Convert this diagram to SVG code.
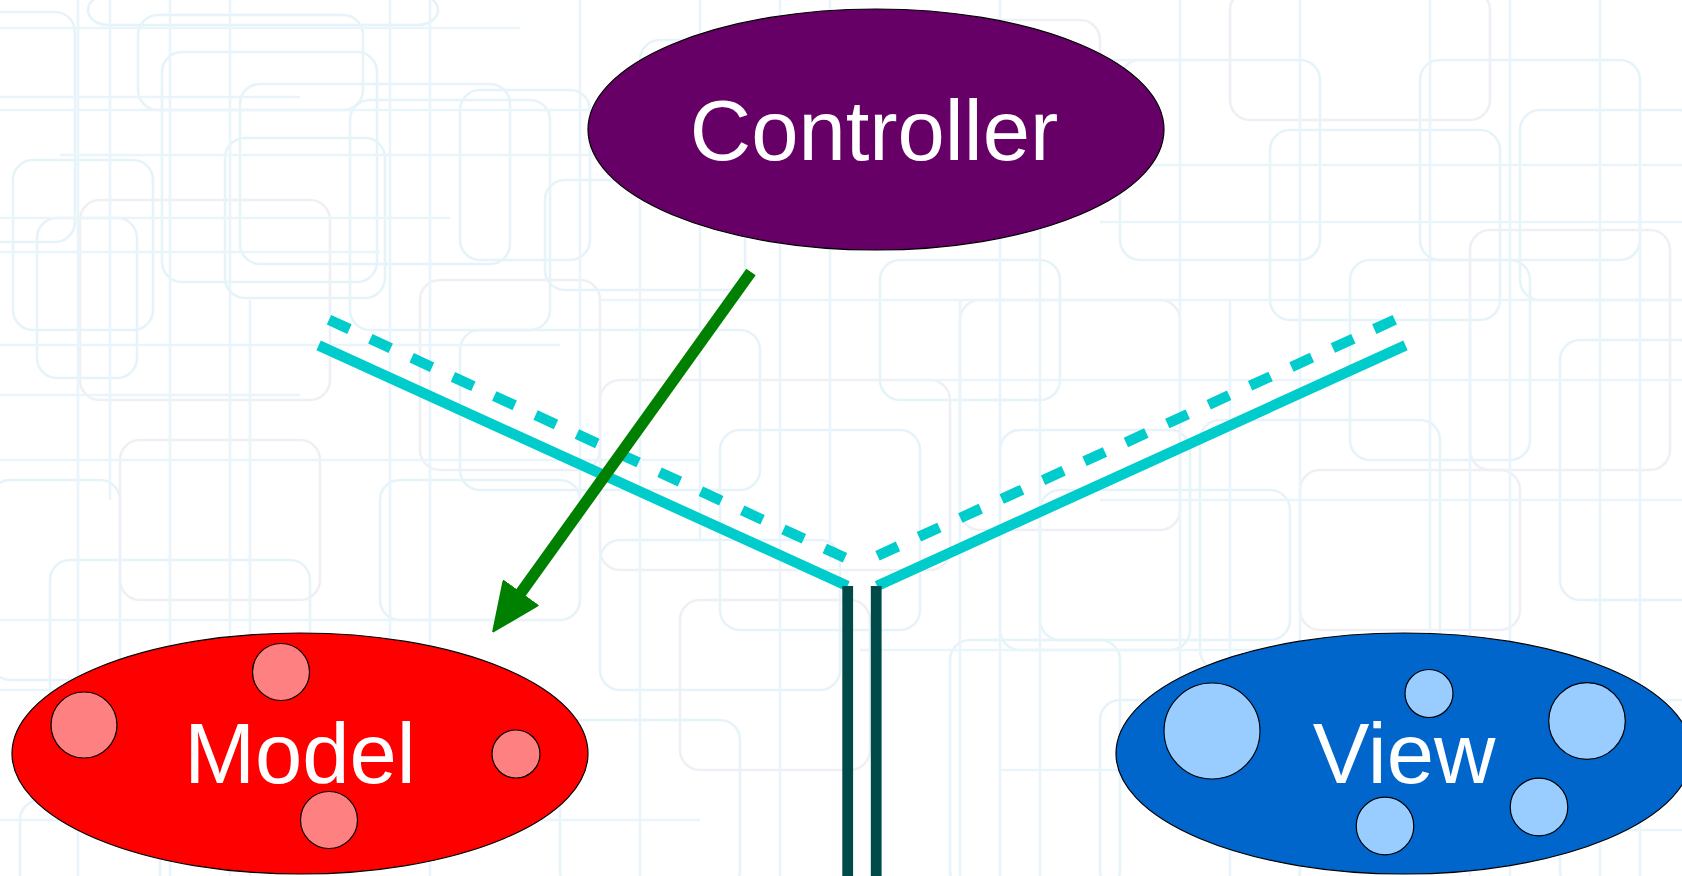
<svg xmlns="http://www.w3.org/2000/svg" width="1682" height="876" viewBox="0 0 1682 876">
<defs>
<style>
.bgr{fill:none;stroke:#e6f3f9;stroke-width:2.6}
.bgl{fill:none;stroke:#e9f5fa;stroke-width:2.6}
.bgv{fill:none;stroke:#efeff6;stroke-width:2.6}
.node{stroke:#000;stroke-width:1.2}
.label{font-family:"Liberation Sans",Arial,sans-serif;font-size:85px;fill:#fff;text-anchor:middle}
.mc{fill:#ff8080;stroke:#000;stroke-width:1.2}
.vc{fill:#99ccff;stroke:#000;stroke-width:1.2}
.cy{stroke:#00cccc;stroke-width:10.5;fill:none}
.cyd{stroke:#00cccc;stroke-width:10.5;fill:none;stroke-dasharray:22.5 23}
.bar{fill:#004a4a}
</style>
<marker id="ah" viewBox="0 0 49 44" refX="1" refY="22" markerWidth="49" markerHeight="44" orient="auto" markerUnits="userSpaceOnUse">
<path d="M1,1 L48,22 L1,43 Z" fill="#008000" stroke="#008000" stroke-width="2" stroke-linejoin="round"/>
</marker>
</defs>
<rect width="1682" height="876" fill="#ffffff"/>
<g id="background">
<rect class="bgr" x="-20" y="12" width="95" height="230" rx="20"/>
<rect class="bgr" x="88" y="-5" width="350" height="30" rx="20"/>
<rect class="bgr" x="138" y="15" width="225" height="95" rx="20"/>
<rect class="bgr" x="162" y="52" width="215" height="230" rx="20"/>
<rect class="bgr" x="240" y="84" width="270" height="180" rx="20"/>
<rect class="bgr" x="13" y="160" width="140" height="170" rx="20"/>
<rect class="bgr" x="37" y="218" width="100" height="160" rx="20"/>
<rect class="bgv" x="80" y="200" width="250" height="200" rx="20"/>
<rect class="bgr" x="225" y="138" width="160" height="160" rx="20"/>
<rect class="bgr" x="460" y="90" width="130" height="170" rx="20"/>
<rect class="bgr" x="350" y="100" width="200" height="230" rx="20"/>
<rect class="bgv" x="420" y="280" width="180" height="190" rx="20"/>
<rect class="bgr" x="460" y="330" width="300" height="160" rx="20"/>
<rect class="bgr" x="545" y="180" width="200" height="110" rx="20"/>
<rect class="bgv" x="600" y="380" width="350" height="190" rx="20"/>
<rect class="bgr" x="380" y="480" width="200" height="140" rx="20"/>
<rect class="bgr" x="600" y="540" width="240" height="150" rx="20"/>
<rect class="bgv" x="680" y="600" width="190" height="170" rx="20"/>
<rect class="bgr" x="720" y="430" width="200" height="200" rx="20"/>
<rect class="bgr" x="880" y="260" width="180" height="140" rx="20"/>
<rect class="bgv" x="960" y="300" width="220" height="230" rx="20"/>
<rect class="bgr" x="1000" y="430" width="190" height="220" rx="20"/>
<rect class="bgr" x="1040" y="490" width="250" height="150" rx="20"/>
<rect class="bgr" x="1120" y="60" width="200" height="200" rx="20"/>
<rect class="bgv" x="1230" y="-10" width="260" height="130" rx="20"/>
<rect class="bgr" x="1270" y="130" width="230" height="190" rx="20"/>
<rect class="bgr" x="1350" y="260" width="180" height="200" rx="20"/>
<rect class="bgr" x="1420" y="60" width="220" height="200" rx="20"/>
<rect class="bgv" x="1470" y="230" width="200" height="240" rx="20"/>
<rect class="bgr" x="1520" y="110" width="180" height="190" rx="20"/>
<rect class="bgr" x="1560" y="340" width="140" height="260" rx="20"/>
<rect class="bgr" x="1200" y="420" width="240" height="250" rx="20"/>
<rect class="bgv" x="1300" y="470" width="220" height="160" rx="20"/>
<rect class="bgr" x="-10" y="480" width="130" height="200" rx="20"/>
<rect class="bgr" x="50" y="560" width="260" height="150" rx="20"/>
<rect class="bgv" x="120" y="440" width="200" height="160" rx="20"/>
<rect class="bgr" x="1100" y="700" width="200" height="190" rx="20"/>
<rect class="bgr" x="950" y="640" width="170" height="250" rx="20"/>
<rect class="bgr" x="560" y="720" width="180" height="170" rx="20"/>
<rect class="bgr" x="20" y="800" width="140" height="100" rx="20"/>
<rect class="bgr" x="1560" y="700" width="150" height="190" rx="20"/>
<rect class="bgr" x="640" y="40" width="230" height="150" rx="20"/>
<rect class="bgv" x="900" y="20" width="200" height="180" rx="20"/>
<path class="bgl" d="M0,28H520 M0,97H300 M0,110H640 M60,155H900 M1000,165H1682 M0,218H450 M1100,222H1682 M0,252H380 M600,300H1682 M0,345H560 M900,380H1682 M0,395H300 M0,460H700 M1100,500H1682 M0,620H560 M860,650H1300 M0,690H200 M1000,770H1682 M0,820H700 M1200,830H1682 M880,60H1200"/>
<path class="bgl" d="M78,0V876 M110,0V500 M230,0V876 M250,300V876 M390,0V700 M430,0V876 M580,0V600 M640,200V876 M780,0V876 M830,0V560 M1000,0V876 M1040,100V876 M1180,0V700 M1230,300V876 M1300,0V876 M1430,0V650 M1470,300V876 M1510,0V876 M1600,0V876 M1640,200V876 M170,0V876 M700,0V540 M960,300V876"/>
</g>
<g id="connectors">
<line class="cy" x1="318.6" y1="345.4" x2="847.5" y2="586"/>
<line class="cyd" x1="329" y1="319.7" x2="845" y2="557.8"/>
<line class="cy" x1="877" y1="586" x2="1405.5" y2="345.4"/>
<line class="cyd" x1="877.5" y1="555.7" x2="1395" y2="319.7"/>
<rect class="bar" x="842.3" y="586" width="10.8" height="290"/>
<rect class="bar" x="870.8" y="586" width="10.8" height="290"/>
<line x1="751" y1="272" x2="520.6" y2="593.2" stroke="#008000" stroke-width="11.5" marker-end="url(#ah)"/>
</g>
<g id="controller">
<ellipse class="node" cx="876" cy="129.5" rx="288" ry="120.5" fill="#660066"/>
<text class="label" x="874" y="160">Controller</text>
</g>
<g id="model">
<ellipse class="node" cx="300" cy="753.5" rx="288" ry="120.5" fill="#ff0000"/>
<circle class="mc" cx="281" cy="672" r="28.5"/>
<circle class="mc" cx="84" cy="725" r="33"/>
<circle class="mc" cx="516" cy="754" r="24"/>
<circle class="mc" cx="329" cy="820" r="28.5"/>
<text class="label" x="300" y="783">Model</text>
</g>
<g id="view">
<ellipse class="node" cx="1404" cy="753.5" rx="288" ry="120.5" fill="#0066cc"/>
<circle class="vc" cx="1212" cy="731" r="48"/>
<circle class="vc" cx="1429" cy="693.5" r="24"/>
<circle class="vc" cx="1587" cy="721" r="38.3"/>
<circle class="vc" cx="1539" cy="807" r="28.8"/>
<circle class="vc" cx="1385" cy="826" r="28.8"/>
<text class="label" x="1404" y="783">View</text>
</g>
</svg>
